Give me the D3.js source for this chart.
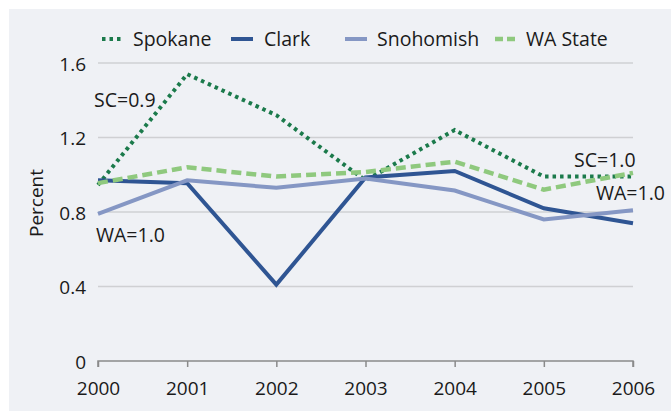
<!DOCTYPE html>
<html>
<head>
<meta charset="utf-8">
<script src="https://cdn.jsdelivr.net/npm/d3@7"></script>
<style>
  html, body { margin: 0; padding: 0; background: #ffffff; }
  svg { display: block; }
  text { font-family: "Open Sans", "Noto Sans", sans-serif; fill: #1a1a1a; }
</style>
</head>
<body>
<svg id="chart" width="671" height="411"></svg>
<script>
// Years on the x axis
const years = [2000, 2001, 2002, 2003, 2004, 2005, 2006];

// Rates (percent) by county and statewide
const spokane   = [0.945, 1.54, 1.32, 0.97, 1.24, 0.99, 0.99];
const clark     = [0.97, 0.955, 0.41, 0.985, 1.02, 0.82, 0.74];
const snohomish = [0.79, 0.97, 0.93, 0.98, 0.915, 0.76, 0.81];
const waState   = [0.955, 1.04, 0.99, 1.015, 1.07, 0.92, 1.01];

const yTicks = [0, 0.4, 0.8, 1.2, 1.6];
const yTickLabels = ["0", "0.4", "0.8", "1.2", "1.6"];

const seriesNames = ["Spokane", "Clark", "Snohomish", "WA State"];

const series = [
  { name: seriesNames[0], values: spokane,   color: "#1b7a4b", width: 4,   dash: "3.5,4" },
  { name: seriesNames[1], values: clark,     color: "#2f5593", width: 4,   dash: null },
  { name: seriesNames[2], values: snohomish, color: "#8597c4", width: 4,   dash: null },
  { name: seriesNames[3], values: waState,   color: "#8fc97e", width: 4.5, dash: "10,5" }
];

const FONT = 19;

const svg = d3.select("#chart");

// Panel background
svg.append("rect")
  .attr("x", 9).attr("y", 9)
  .attr("width", 662).attr("height", 402)
  .attr("fill", "#eff1f5");

const x = d3.scaleLinear().domain([2000, 2006]).range([98, 633]);
const y = d3.scaleLinear().domain([0, 1.6]).range([361, 63]);

// Horizontal gridlines
svg.append("g")
  .selectAll("line")
  .data(yTicks.filter(d => d > 0))
  .join("line")
  .attr("x1", x(2000)).attr("x2", x(2006))
  .attr("y1", d => y(d)).attr("y2", d => y(d))
  .attr("stroke", "#cfd0d3")
  .attr("stroke-width", 1.5);

// X axis
const xAxis = d3.axisBottom(x)
  .tickValues(years)
  .tickFormat(d3.format("d"))
  .tickSize(6)
  .tickPadding(14.5);

const gx = svg.append("g")
  .attr("transform", `translate(0,${y(0)})`)
  .call(xAxis);
gx.select(".domain").attr("stroke", "#8a8a8a").attr("stroke-width", 1.5)
  .attr("d", `M${x(2000)},6V0H${x(2006)}V6`);
gx.selectAll(".tick line").attr("stroke", "#8a8a8a").attr("stroke-width", 1.5);
gx.selectAll(".tick text")
  .attr("font-size", FONT)
  .attr("font-family", "'Open Sans', sans-serif")
  .attr("fill", "#1a1a1a");

// Y axis labels (no axis line)
const yAxis = d3.axisLeft(y)
  .tickValues(yTicks)
  .tickFormat((d, i) => yTickLabels[i])
  .tickSize(0)
  .tickPadding(12);

const gy = svg.append("g")
  .attr("transform", `translate(${x(2000)},0)`)
  .call(yAxis);
gy.select(".domain").remove();
gy.selectAll(".tick text")
  .attr("font-size", FONT)
  .attr("dy", "0.38em")
  .attr("font-family", "'Open Sans', sans-serif")
  .attr("fill", "#1a1a1a");

// Y axis title
svg.append("text")
  .attr("transform", "translate(43,203) rotate(-90)")
  .attr("text-anchor", "middle")
  .attr("font-size", FONT)
  .text("Percent");

// Lines
const line = d3.line()
  .x((d, i) => x(years[i]))
  .y(d => y(d));

svg.append("g")
  .selectAll("path")
  .data(series)
  .join("path")
  .attr("d", d => line(d.values))
  .attr("fill", "none")
  .attr("stroke", d => d.color)
  .attr("stroke-width", d => d.width)
  .attr("stroke-dasharray", d => d.dash)
  .attr("stroke-linejoin", "miter");

// Value annotations
const notes = [
  { text: "SC=0.9", x: 94,  y: 107 },
  { text: "WA=1.0", x: 96,  y: 242 },
  { text: "SC=1.0", x: 574, y: 167 },
  { text: "WA=1.0", x: 596, y: 200 }
];
svg.append("g")
  .selectAll("text")
  .data(notes)
  .join("text")
  .attr("x", d => d.x).attr("y", d => d.y)
  .attr("font-size", FONT + 0.5)
  .text(d => d.text);

// Legend
const legendItems = [
  { s: series[0], sx: 102, tx: 133 },
  { s: series[1], sx: 231, tx: 264 },
  { s: series[2], sx: 345, tx: 377 },
  { s: series[3], sx: 495, tx: 526 }
];
const lg = svg.append("g");
lg.selectAll("line")
  .data(legendItems)
  .join("line")
  .attr("x1", d => d.sx).attr("x2", d => d.sx + 22)
  .attr("y1", 39).attr("y2", 39)
  .attr("stroke", d => d.s.color)
  .attr("stroke-width", d => d.s.width)
  .attr("stroke-dasharray", d => d.s.name === "WA State" ? "8,4" : d.s.dash);
lg.selectAll("text")
  .data(legendItems)
  .join("text")
  .attr("x", d => d.tx).attr("y", 46)
  .attr("font-size", FONT + 0.5)
  .text(d => d.s.name);
</script>
</body>
</html>
